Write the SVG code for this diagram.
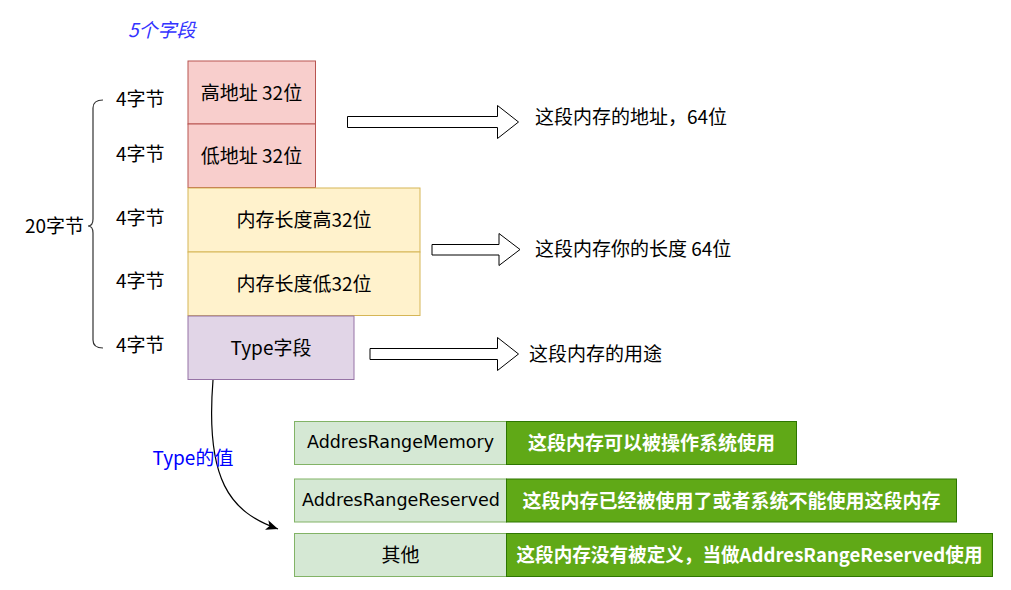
<svg xmlns="http://www.w3.org/2000/svg" width="1011" height="590" viewBox="0 0 1011 590">
<style>
text{font-family:"Noto Sans CJK SC","Noto Sans",sans-serif;font-size:19px;fill:#000;dominant-baseline:central}
.c{text-anchor:middle}
.red{fill:#f8cecc;stroke:#b85450;stroke-width:1}
.yel{fill:#fff2cc;stroke:#d6b656;stroke-width:1}
.pur{fill:#e1d5e7;stroke:#9673a6;stroke-width:1}
.lg{fill:#d5e8d4;stroke:#82b366;stroke-width:1}
.dg{fill:#60a917;stroke:#2d7600;stroke-width:1}
.w{fill:#fff;font-weight:bold}
.comic{font-family:"DejaVu Sans","Noto Sans",sans-serif;font-size:17px}
.blk{fill:#fff;stroke:#000;stroke-width:1}
.blue{fill:#0000ff}
</style>
<defs>
<marker id="arr" markerUnits="userSpaceOnUse" markerWidth="13" markerHeight="11" refX="12" refY="5" orient="auto">
<path d="M0,0 L12,5 L0,10 L3,5 Z" fill="#000"/>
</marker>
</defs>
<rect width="1011" height="590" fill="#fff"/>

<g id="title"><text x="128" y="28.5" class="blue" style="font-style:italic;fill:#3333ff">5个字段</text></g>

<g id="brace">
<path d="M103,100 Q93,100 93,108 L93,219 Q93,226 88,226 Q93,226 93,233 L93,340 Q93,348 103,348" fill="none" stroke="#333" stroke-width="1.2"/>
<text x="25" y="224.5">20字节</text>
</g>

<g id="labels">
<text x="116" y="97.5">4字节</text>
<text x="116" y="152.5">4字节</text>
<text x="116" y="216.5">4字节</text>
<text x="116" y="279.5">4字节</text>
<text x="116" y="343.5">4字节</text>
</g>

<g id="high-addr"><rect class="red" x="188" y="61" width="127.5" height="63"/><text class="c" x="251.5" y="91.5">高地址 32位</text></g>
<g id="low-addr"><rect class="red" x="188" y="124" width="127.5" height="63.5"/><text class="c" x="251.5" y="154">低地址 32位</text></g>
<g id="len-high"><rect class="yel" x="188" y="188" width="232" height="64"/><text class="c" x="304" y="218.5">内存长度高32位</text></g>
<g id="len-low"><rect class="yel" x="188" y="252" width="232" height="63.5"/><text class="c" x="304" y="282.5">内存长度低32位</text></g>
<g id="type"><rect class="pur" x="188" y="316" width="166" height="63.5"/><text class="c" x="271" y="346.5">Type字段</text></g>

<g id="arrow-addr"><polygon class="blk" points="347.5,116.5 497.5,116.5 497.5,105.5 518.5,122 497.5,138.5 497.5,127.5 347.5,127.5"/></g>
<g id="arrow-len"><polygon class="blk" points="432,244.5 499,244.5 499,233.5 520,249.5 499,265.5 499,255 432,255"/></g>
<g id="arrow-type"><polygon class="blk" points="370,348.5 497.5,348.5 497.5,337.5 518.5,354 497.5,370.5 497.5,359.5 370,359.5"/></g>

<g id="desc-addr"><text x="535" y="115.5">这段内存的地址，64位</text></g>
<g id="desc-len"><text x="535" y="247.5">这段内存你的长度 64位</text></g>
<g id="desc-type"><text x="529" y="352.5">这段内存的用途</text></g>

<g id="connectors">
<path d="M213,380 C205,480 230,512 278,529" fill="none" stroke="#000" stroke-width="1.2" marker-end="url(#arr)"/>
<text x="152.5" y="456.5" class="blue">Type的值</text>
</g>

<g id="t-memory">
<rect class="lg" x="294.5" y="421.5" width="212" height="43"/>
<text class="c comic" x="400.5" y="442" textLength="187" lengthAdjust="spacingAndGlyphs">AddresRangeMemory</text>
</g>
<g id="d-memory">
<rect class="dg" x="506.5" y="421.5" width="290" height="43"/>
<text class="c w" x="651.5" y="441.5">这段内存可以被操作系统使用</text>
</g>
<g id="t-reserved">
<rect class="lg" x="294.5" y="479" width="212" height="43"/>
<text class="c comic" x="401" y="499.5" textLength="198" lengthAdjust="spacingAndGlyphs">AddresRangeReserved</text>
</g>
<g id="d-reserved">
<rect class="dg" x="506.5" y="479" width="450" height="43"/>
<text class="c w" x="731.5" y="499">这段内存已经被使用了或者系统不能使用这段内存</text>
</g>
<g id="t-other">
<rect class="lg" x="294.5" y="533.5" width="212" height="43"/>
<text class="c" x="400.5" y="553.5">其他</text>
</g>
<g id="d-other">
<rect class="dg" x="506.5" y="533.5" width="486" height="43"/>
<text class="c w" x="749.5" y="553.5" textLength="466" lengthAdjust="spacingAndGlyphs">这段内存没有被定义，当做AddresRangeReserved使用</text>
</g>
</svg>
